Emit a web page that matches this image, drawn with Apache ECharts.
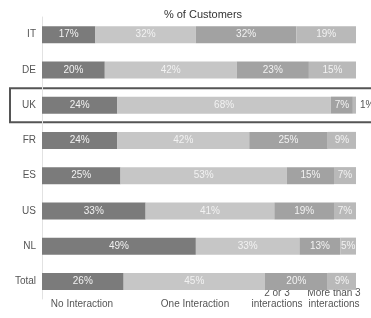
<!DOCTYPE html>
<html>
<head>
<meta charset="utf-8">
<script src="https://cdn.jsdelivr.net/npm/echarts@6/dist/echarts.min.js"></script>
<style>
  html, body { margin: 0; padding: 0; background: #fff; }
  #chart { width: 371px; height: 318px; }
</style>
</head>
<body>
<div id="chart"></div>
<script>
const countries = ['IT', 'DE', 'UK', 'FR', 'ES', 'US', 'NL', 'Total']
const noInteraction = [17, 20, 24, 24, 25, 33, 49, 26]
const oneInteraction = [32, 42, 68, 42, 53, 41, 33, 45]
const twoOrThree = [32, 23, 7, 25, 15, 19, 13, 20]
const moreThanThree = [19, 15, 1, 9, 7, 7, 5, 9]
const seriesNames = ['No Interaction', 'One Interaction', '2 or 3\ninteractions', 'More than 3\ninteractions']
const highlighted = 'UK'

const colors = ['#7b7b7b', '#c6c6c6', '#a2a2a2', '#b9b9b9']
const labelX = [82, 195, 277, 334]

const makeSeries = (name, values, color) => {
  return {
    name: name,
    type: 'bar',
    stack: 'total',
    barWidth: 17,
    itemStyle: { color: color },
    label: {
      show: true,
      color: '#f2f2f2',
      fontSize: 10,
      fontFamily: 'Arial, Liberation Sans, sans-serif',
      formatter: (p) => p.value + '%'
    },
    data: values.map((v) => {
      if (v < 3) {
        return { value: v, label: { position: 'right', color: '#555', distance: 4 } }
      }
      return v
    })
  }
}

const chart = echarts.init(document.getElementById('chart'))

const options = {
  animation: false,
  title: {
    text: '% of Customers',
    left: 198,
    top: 4,
    textAlign: 'center',
    textStyle: { fontSize: 11, fontWeight: 'normal', color: '#333', fontFamily: 'Arial, Liberation Sans, sans-serif' }
  },
  grid: { left: 42, right: 15, top: 17, bottom: 19 },
  xAxis: { type: 'value', min: 0, max: 100, show: false },
  yAxis: {
    type: 'category',
    inverse: true,
    data: countries,
    axisTick: { show: false },
    axisLine: { show: true, lineStyle: { color: '#e2e2e2' } },
    axisLabel: { color: '#555', fontSize: 10, margin: 6, fontFamily: 'Arial, Liberation Sans, sans-serif' }
  },
  series: [
    makeSeries(seriesNames[0], noInteraction, colors[0]),
    makeSeries(seriesNames[1], oneInteraction, colors[1]),
    makeSeries(seriesNames[2], twoOrThree, colors[2]),
    makeSeries(seriesNames[3], moreThanThree, colors[3])
  ]
}
chart.setOption(options)

// box around highlighted row and labels under the bars
const yc = chart.convertToPixel({ yAxisIndex: 0 }, highlighted)
const graphics = [{
  type: 'rect',
  shape: { x: 10, y: yc - 17, width: 380, height: 34 },
  style: { fill: 'none', stroke: '#555', lineWidth: 2 }
}]
seriesNames.forEach((name, i) => {
  graphics.push({
    type: 'text',
    x: labelX[i],
    y: 310,
    style: {
      text: name,
      fill: '#555',
      fontSize: 10,
      align: 'center',
      verticalAlign: 'bottom',
      lineHeight: 11,
      fontFamily: 'Arial, Liberation Sans, sans-serif'
    }
  })
})
chart.setOption({ graphic: graphics })
</script>
</body>
</html>
